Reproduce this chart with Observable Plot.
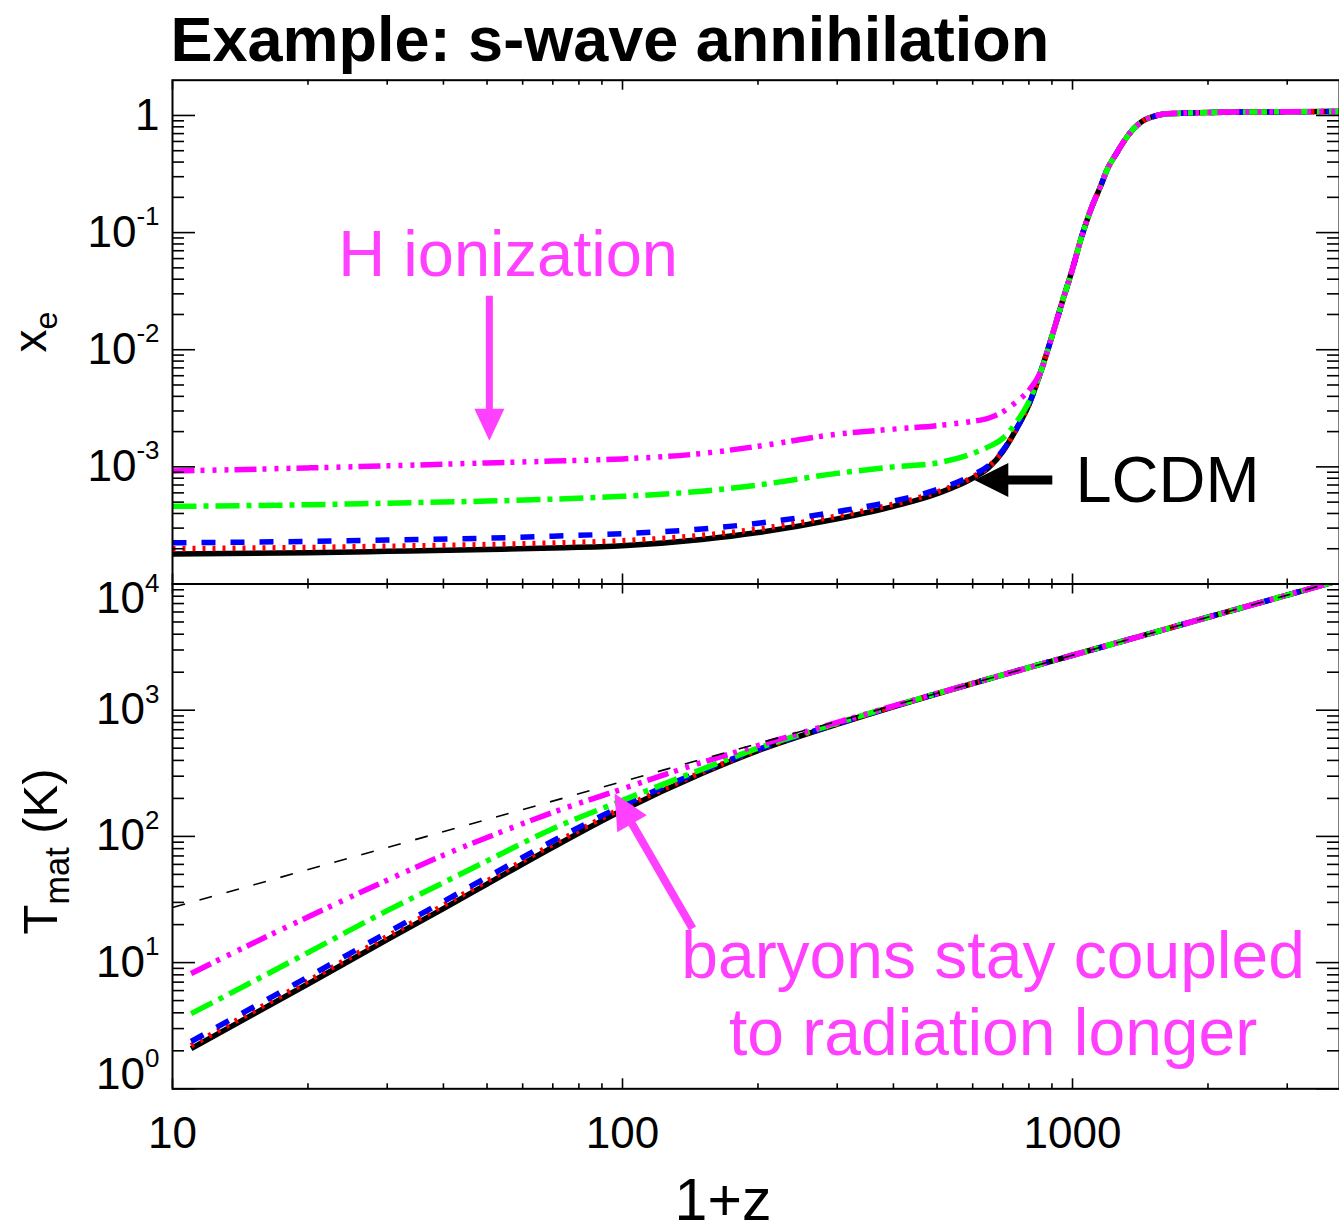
<!DOCTYPE html>
<html><head><meta charset="utf-8">
<script src="https://cdn.jsdelivr.net/npm/d3@7"></script>
<script src="https://cdn.jsdelivr.net/npm/@observablehq/plot@0.6"></script>
<style>
html,body{margin:0;padding:0;background:#fff;overflow:hidden;}
#chart{position:relative;width:1339px;height:1232px;background:#fff;}
#chart svg{position:absolute;left:0;top:0;}
</style></head><body><div id="chart"></div>
<script>
// ---------------- DATA ----------------
const zTop = [10, 20, 30, 50, 70, 100, 150, 200, 300, 400, 500, 600, 650, 700, 750, 800, 850,
  900, 950, 1000, 1050, 1100, 1150, 1200, 1250, 1300, 1350, 1400, 1450, 1500, 1600, 1800, 2000, 2500, 3000, 3920];
const xeLCDM = [1.8e-4, 1.85e-4, 1.9e-4, 1.97e-4, 2.03e-4, 2.12e-4, 2.4e-4, 2.75e-4, 3.6e-4, 4.6e-4, 5.9e-4, 8.0e-4, 9.8e-4, 1.35e-3, 2.1e-3, 3.4e-3, 6.5e-3,
  1.3e-2, 2.6e-2, 4.9e-2, 0.095, 0.16, 0.24, 0.36, 0.47, 0.6, 0.73, 0.84, 0.92, 0.97, 1.03, 1.05, 1.06, 1.07, 1.075, 1.08];
const xeRed = [2.0e-4, 2.05e-4, 2.1e-4, 2.17e-4, 2.24e-4, 2.34e-4, 2.6e-4, 2.95e-4, 3.8e-4, 4.8e-4, 6.1e-4, 8.2e-4, 1.0e-3, 1.36e-3, 2.1e-3, 3.4e-3, 6.5e-3,
  1.3e-2, 2.6e-2, 4.9e-2, 0.095, 0.16, 0.24, 0.36, 0.47, 0.6, 0.73, 0.84, 0.92, 0.97, 1.03, 1.05, 1.06, 1.07, 1.075, 1.08];
const xeBlue = [2.25e-4, 2.31e-4, 2.37e-4, 2.46e-4, 2.56e-4, 2.69e-4, 2.95e-4, 3.3e-4, 4.15e-4, 5.1e-4, 6.4e-4, 8.5e-4, 1.02e-3, 1.38e-3, 2.1e-3, 3.4e-3, 6.5e-3,
  1.3e-2, 2.6e-2, 4.9e-2, 0.095, 0.16, 0.24, 0.36, 0.47, 0.6, 0.73, 0.84, 0.92, 0.97, 1.03, 1.05, 1.06, 1.07, 1.075, 1.08];
const xeGreen = [4.6e-4, 4.75e-4, 4.9e-4, 5.1e-4, 5.3e-4, 5.6e-4, 6.2e-4, 7.0e-4, 8.8e-4, 1.0e-3, 1.08e-3, 1.3e-3, 1.48e-3, 1.75e-3, 2.4e-3, 3.6e-3, 6.5e-3,
  1.3e-2, 2.6e-2, 4.9e-2, 0.095, 0.16, 0.24, 0.36, 0.47, 0.6, 0.73, 0.84, 0.92, 0.97, 1.03, 1.05, 1.06, 1.07, 1.075, 1.08];
const xeMagenta = [9.2e-4, 9.8e-4, 1.02e-3, 1.08e-3, 1.12e-3, 1.17e-3, 1.3e-3, 1.5e-3, 1.9e-3, 2.1e-3, 2.25e-3, 2.45e-3, 2.6e-3, 2.95e-3, 3.6e-3, 4.5e-3, 6.5e-3,
  1.3e-2, 2.6e-2, 4.9e-2, 0.095, 0.16, 0.24, 0.36, 0.47, 0.6, 0.73, 0.84, 0.92, 0.97, 1.03, 1.05, 1.06, 1.07, 1.075, 1.08];

const zBot = [11, 15, 20, 30, 40, 50, 70, 100, 150, 200, 300, 500, 700, 1000, 1500, 2000, 3000, 3920];
const TmLCDM = [2.08, 3.83, 6.77, 15.2, 26.8, 41.9, 82, 161, 315, 478, 775, 1350, 1905, 2725, 4088, 5450, 8175, 10680];
const TmRed = [2.2, 4.05, 7.15, 16.1, 28.4, 44.3, 86.5, 168, 322, 483, 778, 1354, 1905, 2725, 4088, 5450, 8175, 10680];
const TmBlue = [2.37, 4.37, 7.7, 17.3, 30.5, 47.5, 92, 175, 330, 488, 780, 1356, 1905, 2725, 4088, 5450, 8175, 10680];
const TmGreen = [3.94, 7.0, 12.0, 25.8, 43, 64, 115, 193, 340, 500, 790, 1358, 1905, 2725, 4088, 5450, 8175, 10680];
const TmMagenta = [8.2, 14.1, 23, 45, 71, 98, 155, 238, 385, 525, 800, 1360, 1905, 2725, 4088, 5450, 8175, 10680];
const zCMB = [10, 100, 1000, 3920];
const TCMB = [27.3, 272, 2725, 10680];

const xMajor = [10, 100, 1000];
const xLabels = ["10", "100", "1000"];
const xMinor = [20, 30, 40, 50, 60, 70, 80, 90, 200, 300, 400, 500, 600, 700, 800, 900, 2000, 3000];
const minorMult = [2, 3, 4, 5, 6, 7, 8, 9];
const yMajorTop = [1e-4, 1e-3, 1e-2, 1e-1, 1];
const yLabTopVals = [1, 1e-1, 1e-2, 1e-3];
const yLabTop = ["1", "10^{-1}", "10^{-2}", "10^{-3}"];
const yMajorBot = [1, 10, 100, 1000, 10000];
const yLabBotVals = [10000, 1000, 100, 10, 1];
const yLabBot = ["10^{4}", "10^{3}", "10^{2}", "10^{1}", "10^{0}"];

const title = "Example: s-wave annihilation";
const xTitle = "1+z";
const yTitleTop = "x_{e}";
const yTitleBot = "T_{mat} (K)";
const notesTop = [{label: "H ionization", z: 55.7, v: 0.043}, {label: "LCDM", z: 1015, v: 4.97e-4}];
const notesBot = [{label: "baryons stay coupled\nto radiation longer", z: 666, v: 1.836}];
const arrowH = [{z: 50.6, v: 1.67e-3}];
const arrowLCDM = [{z: 605, v: 7.73e-4}];
const arrowBaryon = [{z: 96, v: 219}];

// ---------------- LAYOUT / STYLE ----------------
const W = 1339, H = 1232, ML = 172, MR = 0;
const Y0 = 79.7, YM = 583.5, Y1 = 1088.3;
const PW = W - ML - MR, PH_T = YM - Y0, PH_B = Y1 - YM;
const FONT = "'Liberation Sans', Arial, Helvetica, sans-serif";
const PINK = "#ff40ff";
const xScale = {type: "log", domain: [10, 3920], axis: null};

const rows = (zs, vs) => zs.map((z, i) => ({z, v: vs[i]}));
const yMinorTop = [1e-4, 1e-3, 1e-2, 1e-1].flatMap(d => minorMult.map(m => m * d));
const yMinorBot = [1, 10, 100, 1000].flatMap(d => minorMult.map(m => m * d));

function arrowShape(headLen, headHalf, shaftHalf) {
  return {
    draw(ctx, l) {
      const b = -(l - headLen);
      ctx.moveTo(-shaftHalf, 0);
      ctx.lineTo(-shaftHalf, b);
      ctx.lineTo(-headHalf, b);
      ctx.lineTo(0, -l);
      ctx.lineTo(headHalf, b);
      ctx.lineTo(shaftHalf, b);
      ctx.lineTo(shaftHalf, 0);
      ctx.closePath();
    }
  };
}

function frameMarks(yMajor, yMinor, ph) {
  const s = {stroke: "#000", strokeWidth: 1.6};
  return [
    Plot.tickX(xMajor, {x: d => d, insetTop: ph - 10, ...s}),
    Plot.tickX(xMajor, {x: d => d, insetBottom: ph - 10, ...s}),
    Plot.tickX(xMinor, {x: d => d, insetTop: ph - 5, ...s}),
    Plot.tickX(xMinor, {x: d => d, insetBottom: ph - 5, ...s}),
    Plot.tickY(yMajor, {y: d => d, insetRight: PW - 23, ...s}),
    Plot.tickY(yMajor, {y: d => d, insetLeft: PW - 23, ...s}),
    Plot.tickY(yMinor, {y: d => d, insetRight: PW - 12, ...s}),
    Plot.tickY(yMinor, {y: d => d, insetLeft: PW - 12, ...s}),
    Plot.frame({stroke: "#000", strokeWidth: 2})
  ];
}

function curves(zs, series) {
  const base = {x: "z", y: "v", strokeWidth: 5.5, strokeLinecap: "butt", strokeLinejoin: "round", curve: "monotone-x", clip: true};
  return [
    Plot.line(rows(zs, series[0]), {...base, stroke: "#000000"}),
    Plot.line(rows(zs, series[1]), {...base, stroke: "#ff0000", strokeDasharray: "3,7"}),
    Plot.line(rows(zs, series[2]), {...base, stroke: "#0000ff", strokeDasharray: "14,15"}),
    Plot.line(rows(zs, series[3]), {...base, stroke: "#00ff00", strokeDasharray: "24,7,5,7"}),
    Plot.line(rows(zs, series[4]), {...base, stroke: "#ff00ff", strokeDasharray: "22,6,4,8,4,8,4,6"})
  ];
}

const tickFont = {fontFamily: FONT, fontSize: 44, fill: "#000"};
const style = {background: "none", overflow: "visible", maxWidth: "none"};

const topPlot = Plot.plot({
  width: W, height: H, marginLeft: ML, marginRight: MR, marginTop: Y0, marginBottom: H - YM,
  x: xScale,
  y: {type: "log", domain: [1e-4, 2], axis: null},
  style,
  marks: [
    ...curves(zTop, [xeLCDM, xeRed, xeBlue, xeGreen, xeMagenta]),
    ...frameMarks(yMajorTop, yMinorTop, PH_T),
    Plot.text(yLabTopVals, {y: d => d, text: (d, i) => yLabTop[i], frameAnchor: "left", textAnchor: "end", dx: -13, ...tickFont}),
    Plot.text([yTitleTop], {frameAnchor: "left", rotate: -90, textAnchor: "middle", lineAnchor: "bottom", dx: -127, fontFamily: FONT, fontSize: 46, fill: "#000"}),
    Plot.text([title], {frameAnchor: "top-left", textAnchor: "start", lineAnchor: "bottom", dx: -2, dy: 61 - Y0, fontFamily: FONT, fontWeight: "bold", fontSize: 63, fill: "#000"}),
    Plot.text(notesTop.slice(0, 1), {x: "z", y: "v", text: "label", textAnchor: "middle", lineAnchor: "bottom", fontFamily: FONT, fontSize: 65, fill: PINK}),
    Plot.text(notesTop.slice(1), {x: "z", y: "v", text: "label", textAnchor: "start", lineAnchor: "bottom", fontFamily: FONT, fontSize: 65, fill: "#000"}),
    Plot.vector(arrowH, {x: "z", y: "v", length: 145, rotate: 180, anchor: "end", shape: arrowShape(32, 15, 3.5), fill: PINK, stroke: "none"}),
    Plot.vector(arrowLCDM, {x: "z", y: "v", length: 78, rotate: -90, anchor: "end", shape: arrowShape(34, 17, 4.5), fill: "#000", stroke: "none"})
  ]
});

const botPlot = Plot.plot({
  width: W, height: H, marginLeft: ML, marginRight: MR, marginTop: YM, marginBottom: H - Y1,
  x: xScale,
  y: {type: "log", domain: [1, 1e4], axis: null},
  style,
  marks: [
    ...curves(zBot, [TmLCDM, TmRed, TmBlue, TmGreen, TmMagenta]),
    Plot.line(rows(zCMB, TCMB), {x: "z", y: "v", stroke: "#000", strokeWidth: 1.6, strokeDasharray: "13,15", strokeLinecap: "butt", clip: true}),
    ...frameMarks(yMajorBot, yMinorBot, PH_B),
    Plot.text(yLabBotVals.slice(1, 4), {y: d => d, text: (d, i) => yLabBot[i + 1], frameAnchor: "left", textAnchor: "end", dx: -13, ...tickFont}),
    Plot.text(yLabBotVals.slice(0, 1), {y: d => d, text: () => yLabBot[0], frameAnchor: "left", textAnchor: "end", lineAnchor: "top", dx: -13, dy: -2, ...tickFont}),
    Plot.text(yLabBotVals.slice(4), {y: d => d, text: () => yLabBot[4], frameAnchor: "left", textAnchor: "end", lineAnchor: "bottom", dx: -13, ...tickFont}),
    Plot.text(xMajor, {x: d => d, text: (d, i) => xLabels[i], frameAnchor: "bottom", lineAnchor: "bottom", dy: 59, ...tickFont}),
    Plot.text([xTitle], {frameAnchor: "bottom", textAnchor: "middle", lineAnchor: "bottom", dx: -33, dy: 131, fontFamily: FONT, fontSize: 59, fill: "#000"}),
    Plot.text([yTitleBot], {frameAnchor: "left", rotate: -90, textAnchor: "middle", lineAnchor: "bottom", dx: -116, dy: 15, fontFamily: FONT, fontSize: 49, fill: "#000"}),
    Plot.text(notesBot, {x: "z", y: "v", text: "label", textAnchor: "middle", lineAnchor: "bottom", lineHeight: 1.17, fontFamily: FONT, fontSize: 66, fill: PINK}),
    Plot.vector(arrowBaryon, {x: "z", y: "v", length: 156, rotate: -30, anchor: "end", shape: arrowShape(35, 17, 4), fill: PINK, stroke: "none"})
  ]
});

const chart = document.getElementById("chart");
chart.appendChild(botPlot);
chart.appendChild(topPlot);

// rich text: 10^{-1} -> superscript, x_{e} -> subscript
function richText(svg) {
  d3.select(svg).selectAll("text").each(function () {
    const el = this;
    const s = el.textContent;
    if (!/[\^_]\{/.test(s) || el.querySelector("tspan")) return;
    const fs = parseFloat(getComputedStyle(el).fontSize) || 44;
    el.textContent = "";
    const re = /([\^_])\{([^}]*)\}/g;
    let last = 0, m, shift = 0;
    const add = (txt, opts) => {
      const t = document.createElementNS("http://www.w3.org/2000/svg", "tspan");
      t.textContent = txt;
      if (opts.size) t.setAttribute("font-size", opts.size);
      if (opts.dy) t.setAttribute("dy", opts.dy);
      el.appendChild(t);
    };
    while ((m = re.exec(s))) {
      if (m.index > last) { add(s.slice(last, m.index), {dy: shift ? -shift : 0}); shift = 0; }
      if (m[1] === "^") { const d = -0.49 * fs; add(m[2], {size: 0.59 * fs, dy: d}); shift = d; }
      else { const d = 0.25 * fs; add(m[2], {size: 0.7 * fs, dy: d}); shift = d; }
      last = re.lastIndex;
    }
    if (last < s.length) add(s.slice(last), {dy: shift ? -shift : 0});
  });
}
richText(botPlot);
richText(topPlot);
</script></body></html>
